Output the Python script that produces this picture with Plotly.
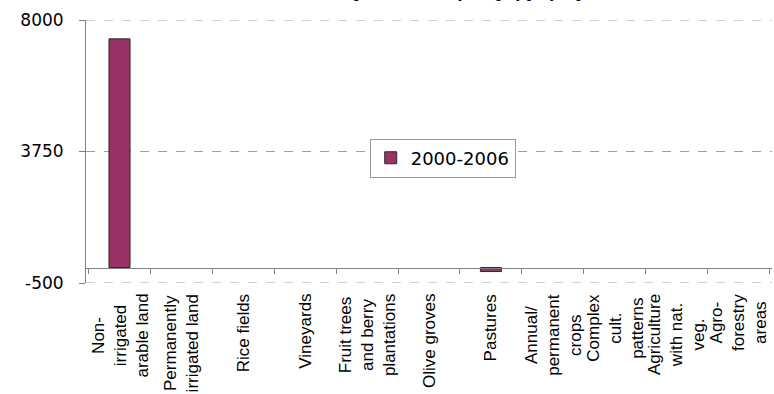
import plotly.graph_objects as go

# Agricultural land categories and mean annual net formation (ha/year)
categories = [
    "Non-<br>irrigated<br>arable land",
    "Permanently<br>irrigated land",
    "Rice fields",
    "Vineyards",
    "Fruit trees<br>and berry<br>plantations",
    "Olive groves",
    "Pastures",
    "Annual/<br>permanent<br>crops",
    "Complex<br>cult.<br>patterns",
    "Agriculture<br>with nat.<br>veg.",
    "Agro-<br>forestry<br>areas",
]
values_2000_2006 = [7390, 0, 0, 0, 0, 0, -130, 0, 0, 0, 0]
y_ticks = [-500, 3750, 8000]
y_tick_labels = ["-500", "3750", "8000"]
series_name = "2000-2006"
title_text = "Annual net formation of agricultural land by category [ha/year]"

y_min, y_max = -500, 8000

# empty categories get no outline so nothing shows on the zero line
outline_widths = [1 if v != 0 else 0 for v in values_2000_2006]

fig = go.Figure()
fig.add_trace(go.Bar(
    x=categories,
    y=values_2000_2006,
    name=series_name,
    width=0.34,
    marker=dict(color="#993366", line=dict(color="#2a2a2a", width=outline_widths)),
    showlegend=True,
))

# dashed horizontal gridlines at each y tick (including the range ends)
for yv in y_ticks:
    fig.add_shape(
        type="line", xref="paper", x0=0, x1=1, yref="y", y0=yv, y1=yv,
        line=dict(color="#a0a0a0", width=1, dash="dash"), layer="below",
    )

# category labels, rotated and centred under each category
for cat in categories:
    fig.add_annotation(
        x=cat, xref="x", y=0, yref="paper",
        text=cat, textangle=-90, showarrow=False,
        xanchor="center", yanchor="top", yshift=-9, align="center",
        font=dict(family="Liberation Sans, Arial, sans-serif", size=17, color="#000"),
    )

# chart title (sits at the very top edge of the page)
fig.add_annotation(
    x=341 / 774, xref="paper", y=1, yref="paper",
    text="<b>" + title_text + "</b>", showarrow=False,
    xanchor="center", yanchor="bottom", yshift=17,
    font=dict(family="Liberation Sans, Arial, sans-serif", size=13, color="#000"),
)

fig.update_layout(
    width=774, height=394,
    margin=dict(l=86, r=2, t=20, b=111),
    paper_bgcolor="white", plot_bgcolor="white",
    legend=dict(
        x=0.52, y=0.475, xanchor="center", yanchor="middle",
        bgcolor="white", bordercolor="#999999", borderwidth=1,
        font=dict(family="DejaVu Sans, Verdana, sans-serif", size=18, color="#000"),
        itemwidth=30,
    ),
    xaxis=dict(
        type="category",
        anchor="free", position=(0 - y_min) / (y_max - y_min),
        showline=True, linecolor="#808080", linewidth=1,
        ticks="outside", tickson="boundaries", ticklen=5, tickcolor="#808080",
        showticklabels=False, showgrid=False, zeroline=False,
    ),
    yaxis=dict(
        range=[y_min, y_max],
        tickvals=y_ticks, ticktext=y_tick_labels,
        showline=True, linecolor="#808080", linewidth=1,
        ticks="outside", ticklen=6, tickcolor="#808080",
        ticklabelstandoff=12,
        showgrid=False, zeroline=False,
        tickfont=dict(family="DejaVu Sans, Verdana, sans-serif", size=17, color="#000"),
    ),
)

fig.write_html("out.html")
